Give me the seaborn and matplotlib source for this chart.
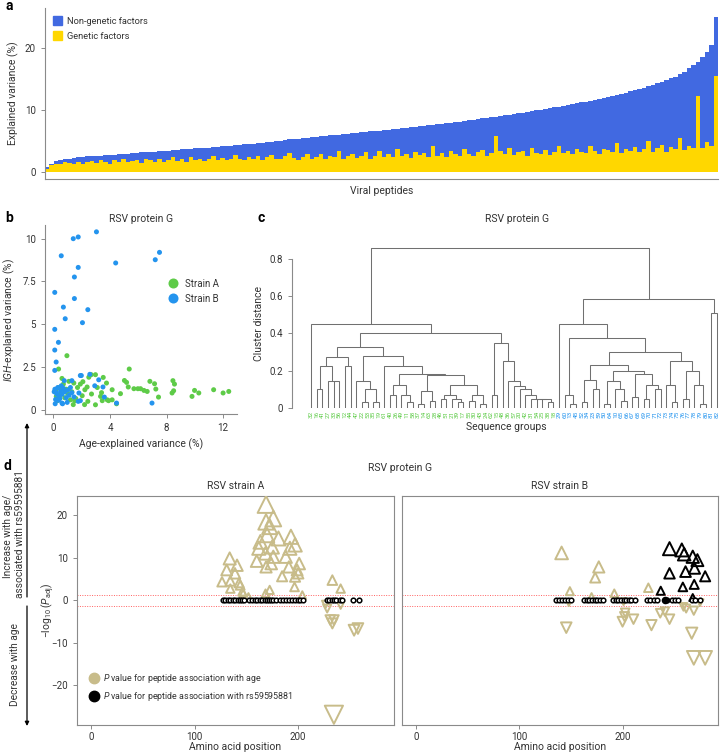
import numpy as np
import pandas as pd
import matplotlib
matplotlib.use('Agg')
import matplotlib.pyplot as plt
import seaborn as sns
from matplotlib.lines import Line2D
from matplotlib.patches import Patch

# ── colours ─────────────────────────────────────────────────────────
BLUE_A   = '#4169e1'
GOLD_A   = '#ffd700'
GREEN_B  = '#5ecb48'
BLUE_B   = '#2494ee'
TAN      = '#c8bc8a'
GRAY     = '#8a8a8a'
TXT      = '#333333'

# ── panel a: explained variance per viral peptide (sorted) ──────────
total_var = [
    0.7, 1.3, 1.7, 1.9, 2.0, 2.1, 2.2, 2.3, 2.35, 2.45,
    2.5, 2.55, 2.6, 2.65, 2.7, 2.75, 2.8, 2.85, 2.9, 3.0,
    3.05, 3.1, 3.15, 3.2, 3.25, 3.3, 3.35, 3.4, 3.5, 3.55,
    3.6, 3.65, 3.7, 3.75, 3.8, 3.85, 3.9, 3.95, 4.0, 4.1,
    4.15, 4.2, 4.3, 4.35, 4.4, 4.5, 4.55, 4.65, 4.7, 4.8,
    4.85, 4.95, 5.0, 5.1, 5.2, 5.25, 5.35, 5.4, 5.5, 5.6,
    5.65, 5.75, 5.8, 5.9, 5.95, 6.0, 6.1, 6.15, 6.2, 6.3,
    6.35, 6.45, 6.5, 6.6, 6.65, 6.7, 6.8, 6.85, 6.95, 7.0,
    7.1, 7.2, 7.25, 7.35, 7.4, 7.5, 7.6, 7.7, 7.75, 7.85,
    7.95, 8.05, 8.1, 8.2, 8.3, 8.4, 8.5, 8.6, 8.7, 8.8,
    8.9, 9.0, 9.1, 9.2, 9.3, 9.45, 9.55, 9.65, 9.8, 9.9,
    10.0, 10.15, 10.3, 10.4, 10.5, 10.65, 10.8, 10.9, 11.05, 11.2,
    11.3, 11.45, 11.6, 11.75, 11.9, 12.05, 12.2, 12.4, 12.6, 12.8,
    13.0, 13.2, 13.4, 13.6, 13.8, 14.05, 14.3, 14.55, 14.8, 15.1,
    15.4, 15.8, 16.2, 16.7, 17.2, 17.8, 18.5, 19.3, 20.5, 25.0,
]
genetic_var = [
    0.5, 1.0, 1.3, 1.2, 1.5, 1.4, 1.2, 1.6, 1.3, 1.5,
    1.7, 1.4, 1.8, 1.5, 1.3, 1.8, 1.6, 2.0, 1.5, 1.7,
    1.9, 1.4, 2.1, 1.8, 1.6, 2.0, 1.5, 1.9, 2.3, 1.7,
    2.0, 1.6, 2.4, 1.8, 2.1, 1.7, 2.0, 2.5, 1.8, 2.2,
    1.8, 2.1, 2.7, 2.0, 1.8, 2.4, 2.1, 2.6, 1.9, 2.3,
    2.7, 2.1, 2.0, 2.5, 3.0, 2.2, 1.9, 2.4, 2.8, 2.1,
    2.3, 2.9, 2.0, 2.5, 2.3, 3.3, 2.1, 2.6, 2.9, 2.2,
    2.5, 3.1, 2.1, 2.6, 3.4, 2.3, 2.8, 2.4, 3.7, 2.6,
    2.9, 2.2, 3.2, 2.7, 3.0, 2.4, 4.2, 2.6, 3.0, 2.3,
    3.3, 2.8, 2.5, 3.6, 2.9, 2.5, 3.1, 3.5, 2.6, 3.0,
    5.8, 3.4, 2.9, 3.8, 2.7, 3.1, 3.3, 2.6, 3.9, 3.0,
    2.9, 3.5, 2.7, 3.2, 4.1, 3.0, 3.4, 2.8, 3.7, 3.1,
    3.0, 4.2, 3.3, 2.8, 3.6, 3.5, 3.1, 4.6, 3.0, 3.6,
    3.3, 4.0, 3.1, 3.6, 5.0, 3.2, 3.8, 4.3, 3.2, 4.0,
    3.6, 5.5, 3.5, 4.2, 3.9, 12.2, 3.8, 4.8, 4.1, 15.5,
]

# ── panel b: age vs IGH explained variance ──────────────────────────
strainA_age = [0.95, 0.36, 5.36, 0.6, 1.09, 1.44, 2.08, 2.38, 2.67, 2.97,
               3.52, 3.75, 5.02, 5.17, 5.29, 5.69, 5.97, 6.16, 6.4, 6.82,
               7.15, 7.24, 6.63, 7.43, 8.45, 8.56, 8.5, 8.39, 9.98, 10.28,
               9.8, 11.33, 12.0, 12.4, 4.15, 4.74, 3.33, 2.69, 2.03, 1.58,
               2.22, 3.8, 4.15, 2.97, 2.43, 1.2, 0.2, 0.26, 1.5, 3.45,
               3.9, 4.46, 0.4, 0.7, 0.9, 1.3, 1.7, 0.5, 1.0, 1.9,
               2.5, 3.1, 2.2, 0.15, 0.8, 1.4, 3.4]
strainA_igh = [3.16, 2.38, 2.38, 1.83, 1.66, 1.56, 1.64, 1.33, 2.05, 2.05,
               1.89, 1.56, 1.71, 1.6, 1.33, 1.23, 1.23, 1.23, 1.13, 1.66,
               1.52, 1.21, 1.07, 0.74, 1.7, 1.5, 1.11, 0.98, 1.13, 0.98,
               0.78, 1.17, 0.98, 1.07, 1.17, 0.94, 0.78, 0.92, 0.82, 0.66,
               1.17, 0.58, 0.58, 0.29, 0.49, 0.58, 0.78, 0.53, 0.53, 0.53,
               0.53, 0.35, 1.3, 1.5, 1.2, 1.05, 1.3, 0.9, 0.95, 1.5,
               1.9, 1.3, 0.3, 1.1, 0.7, 0.3, 1.0]
strainB_age = [3.04, 1.75, 1.4, 0.55, 7.5, 7.2, 4.4, 1.75, 1.48, 0.09,
               1.48, 0.7, 2.43, 0.83, 2.05, 0.09, 0.35, 0.09, 0.19, 0.09,
               1.9, 1.97, 2.57, 3.2, 2.92, 1.3, 0.76, 3.5, 3.6, 1.8,
               1.9, 6.97, 4.46, 0.6, 0.97, 0.12, 0.64, 1.75, 0.1, 0.2,
               0.3, 0.4, 0.5, 0.6, 0.7, 0.8, 0.9, 1.0, 1.1, 1.2,
               0.15, 0.35, 0.25, 0.55, 1.3, 1.45, 0.05, 0.45]
strainB_igh = [10.4, 10.1, 10.0, 9.0, 9.2, 8.77, 8.58, 8.32, 7.76, 6.86,
               6.5, 6.0, 5.85, 5.32, 5.09, 4.7, 3.94, 3.49, 2.79, 2.3,
               2.0, 2.0, 2.07, 1.75, 1.4, 1.7, 1.7, 1.33, 0.74, 0.98,
               0.53, 0.39, 0.39, 0.39, 0.43, 0.35, 0.35, 0.49, 1.2, 1.0,
               1.3, 0.8, 1.1, 0.9, 1.25, 1.05, 0.7, 1.15, 0.85, 1.3,
               0.6, 0.55, 0.9, 1.4, 1.0, 0.75, 1.05, 0.65]

# ── panel c: dendrogram of sequence groups ──────────────────────────
# internal node = [merge height, left, right]; 'L' = leaf
L = 'L'
tree_left = [0.45, L, [0.40,
    [0.325,
        [0.275, [0.225, [0.10, L, L], [0.146, L, [0.145, L, L]]], [0.225, L, L]],
        [0.28,
            [0.146, L, [0.10, [0.03, L, L], [0.03, L, L]]],
            [0.225, L, [0.18,
                [0.125, [0.07, L, L], [0.07, L, [0.03, L, L]]],
                [0.177, [0.09, [0.02, L, L], [0.04, L, L]],
                        [0.125, [0.07, [0.05, L, L], [0.05, L, [0.03, L, L]]],
                                [0.07, [0.04, L, L], [0.02, L, L]]]]]]]],
    [0.35, [0.07, L, L], [0.25, L, [0.145, L, [0.12, L, [0.10, L, [0.07, L,
        [0.05, L, [0.05, L, [0.05, L, [0.03, L, L]]]]]]]]]]]]
tree_right = [0.585,
    [0.45, L, [0.375, [0.07, L, [0.02, L, L]],
        [0.298,
            [0.23, [0.15, [0.03, L, L], [0.10, L, L]],
                   [0.20, [0.145, [0.02, L, L], [0.10, L, [0.04, L, L]]],
                          [0.18, [0.06, L, L], [0.125, [0.05, L, L], [0.10, L, L]]]]],
            [0.25, [0.125, L, [0.03, L, L]],
                   [0.20, [0.05, L, L], [0.125, L, [0.02, L, L]]]]]]],
    [0.51, L, L]]
tree_top_height = 0.855

leaf_labels_A = ['32', '16', '41', '27', '33', '56', '12', '44', '47', '22',
                 '53', '35', '19', '61', '40', '26', '49', '11', '58', '37',
                 '14', '63', '28', '46', '51', '21', '39', '17', '55', '30',
                 '43', '24', '62', '15', '48', '36', '57', '20', '42', '31',
                 '54', '25', '38', '18']
leaf_labels_B = ['29', '60', '13', '45', '52', '34', '23', '59', '50', '64',
                 '10', '65', '66', '67', '68', '69', '70', '71', '72', '73',
                 '74', '75', '76', '77', '78', '79', '80', '81', '82']

# ── panel d: peptide associations along RSV protein G ───────────────
A_up_pos = [126.5, 133.9, 131, 134.5, 139, 141, 143, 144, 134.5, 146, 147, 152,
            169, 176, 169, 172.5, 170, 163.5, 175, 162, 168.5, 181, 176, 174,
            169, 160, 193, 197, 192, 188, 191, 201, 199, 197, 200, 184.5,
            196.5, 172.5, 168.5, 204, 233, 241]
A_up_val = [4.3, 9.8, 7.1, 4.5, 6.3, 8.2, 4.1, 3.5, 2.7, 2.0, 1.6, 0.8,
            22.5, 19.2, 18.4, 17.3, 15.3, 13.7, 12.5, 12.2, 11.0, 14.5, 10.2, 8.6,
            7.8, 9.2, 14.9, 13.0, 12.2, 10.2, 7.8, 8.6, 7.1, 5.5, 6.3, 5.6,
            3.1, 2.4, 1.6, 1.2, 4.7, 2.7]
A_dn_pos = [228, 231, 234.5, 233, 254, 257.7, 234.5, 241, 226.5]
A_dn_val = [-2.0, -4.7, -4.7, -5.5, -7.1, -6.7, -27.0, -1.2, -1.0]
A_snp_pos = [127, 129.5, 132, 134.5, 137, 139.5, 142, 144, 146, 148,
             153, 155.5, 158, 160.5, 163, 165.5, 168, 170, 172, 174, 176,
             179, 182, 185, 188, 191, 194, 197, 199.5, 202, 205,
             228, 230, 233, 235, 237, 240, 242, 253, 259]

B_up_pos = [141, 177, 173.5, 149, 192, 225, 170]
B_up_val = [11.1, 7.8, 5.3, 2.1, 1.6, 2.9, 0.8]
B_dn_pos = [145.5, 148, 202.6, 202, 200, 210.6, 228, 236.5, 241, 245.5,
            259, 261.6, 269, 267, 269, 280, 275, 201]
B_dn_val = [-6.5, -0.6, -3.0, -3.9, -5.1, -4.5, -5.9, -3.1, -2.7, -4.5,
            -1.6, -2.0, -2.5, -7.8, -13.6, -13.6, -0.6, -0.4]
B_snp_up_pos = [245.5, 257.4, 259.7, 268, 272.5, 269.7, 261, 245.5, 280, 269.4, 258.4, 237, 268]
B_snp_up_val = [12.1, 11.8, 10.8, 10.2, 9.4, 7.5, 6.7, 6.3, 5.6, 3.7, 3.1, 2.2, 0.6]
B_snp_pos = [135.5, 138, 141, 144, 147, 150,
             163, 165.5, 168, 170.5, 173, 175.5, 178, 181,
             191, 193.5, 196, 198.5, 201, 203.5, 206, 208.5, 212,
             223.5, 227, 230, 233, 243, 248, 251, 254, 267, 270, 275]
B_snp_filled_pos = [241]

P_THRESH = 1.3   # -log10(0.05)


# ── style ───────────────────────────────────────────────────────────
sns.set_theme(style='ticks')
plt.rcParams['font.family'] = ['Roboto', 'DejaVu Sans']
plt.rcParams['mathtext.fontset'] = 'custom'
plt.rcParams['mathtext.rm'] = 'Roboto'
plt.rcParams['mathtext.it'] = 'Roboto:italic'
plt.rcParams['text.color'] = TXT
plt.rcParams['axes.labelcolor'] = TXT
plt.rcParams['axes.edgecolor'] = GRAY
plt.rcParams['axes.linewidth'] = 0.8
plt.rcParams['xtick.color'] = GRAY
plt.rcParams['ytick.color'] = GRAY
plt.rcParams['xtick.labelcolor'] = TXT
plt.rcParams['ytick.labelcolor'] = TXT

FS = 7


def _ticks(ax):
    ax.tick_params(labelsize=FS, length=3, width=0.7)


fig = plt.figure(figsize=(7.2, 7.54), dpi=100)

# ── a ───────────────────────────────────────────────────────────────
ax_a = fig.add_axes([0.0625, 0.7626, 0.935, 0.2268])
df_a = pd.DataFrame({'peptide': np.arange(len(total_var)),
                     'total': total_var, 'genetic': genetic_var})
sns.barplot(data=df_a, x='peptide', y='total', color=BLUE_A, width=1.0,
            linewidth=0, saturation=1, errorbar=None, ax=ax_a)
sns.barplot(data=df_a, x='peptide', y='genetic', color=GOLD_A, width=1.0,
            linewidth=0, saturation=1, errorbar=None, ax=ax_a)
ax_a.set_xlim(-0.5, len(total_var) - 0.5)
ax_a.set_ylim(-1.2, 26.5)
ax_a.set_xticks([])
ax_a.set_yticks([0, 10, 20])
ax_a.set_xlabel('Viral peptides', fontsize=FS + 0.5, labelpad=5)
ax_a.set_ylabel('Explained variance (%)', fontsize=FS + 0.5, labelpad=4)
sns.despine(ax=ax_a)
_ticks(ax_a)
ax_a.legend(handles=[Patch(color=BLUE_A, label='Non-genetic factors'),
                     Patch(color=GOLD_A, label='Genetic factors')],
            loc='upper left', bbox_to_anchor=(0.0, 1.0), frameon=False,
            fontsize=FS - 0.3, handlelength=0.9, handleheight=1.0,
            handletextpad=0.6, labelspacing=0.6)

# ── b ───────────────────────────────────────────────────────────────
ax_b = fig.add_axes([0.0625, 0.4509, 0.267, 0.2507])
df_b = pd.DataFrame({
    'age': strainA_age + strainB_age,
    'igh': strainA_igh + strainB_igh,
    'strain': ['Strain A'] * len(strainA_age) + ['Strain B'] * len(strainB_age),
})
sns.scatterplot(data=df_b, x='age', y='igh', hue='strain',
                palette={'Strain A': GREEN_B, 'Strain B': BLUE_B},
                s=13, linewidth=0, ax=ax_b)
ax_b.set_xlim(-0.6, 13.0)
ax_b.set_ylim(-0.25, 10.8)
ax_b.set_xticks([0, 4, 8, 12])
ax_b.set_yticks([0, 2.5, 5, 7.5, 10])
ax_b.set_yticklabels(['0', '2.5', '5', '7.5', '10'])
ax_b.set_xlabel('Age-explained variance (%)', fontsize=FS + 0.5)
ax_b.set_ylabel(r'$\it{IGH}$-explained variance (%)', fontsize=FS + 0.5)
ax_b.set_title('RSV protein G', fontsize=FS + 0.5, pad=2)
sns.despine(ax=ax_b)
_ticks(ax_b)
ax_b.legend(loc='center left', bbox_to_anchor=(0.57, 0.65), frameon=False,
            fontsize=FS, markerscale=2.0, handletextpad=0.2, labelspacing=0.5)

# ── c ───────────────────────────────────────────────────────────────
ax_c = fig.add_axes([0.4056, 0.4589, 0.594, 0.2228])
leaf_pos = []


def draw_node(node, ax):
    if node == L:
        x = len(leaf_pos)
        leaf_pos.append(x)
        return x, 0.0
    h, left, right = node
    xl, hl = draw_node(left, ax)
    xr, hr = draw_node(right, ax)
    ax.plot([xl, xl, xr, xr], [hl, h, h, hr], color='#707070', lw=0.75,
            solid_joinstyle='miter')
    return (xl + xr) / 2, h


xl_top, hl_top = draw_node(tree_left, ax_c)
xr_top, hr_top = draw_node(tree_right, ax_c)
ax_c.plot([xl_top, xl_top, xr_top, xr_top],
          [hl_top, tree_top_height, tree_top_height, hr_top],
          color='#707070', lw=0.75)
labels_c = leaf_labels_A + leaf_labels_B
ax_c.set_xticks(leaf_pos)
ax_c.set_xticklabels(labels_c, rotation=90, fontsize=4.6)
for i, t in enumerate(ax_c.get_xticklabels()):
    t.set_color(GREEN_B if i < len(leaf_labels_A) else BLUE_B)
ax_c.tick_params(axis='x', length=0, pad=2)
ax_c.set_xlim(-3.4, len(labels_c) - 0.5)
ax_c.set_ylim(0, 0.9)
ax_c.set_yticks([0, 0.2, 0.4, 0.6, 0.8])
ax_c.set_yticklabels(['0', '0.2', '0.4', '0.6', '0.8'])
sns.despine(ax=ax_c, bottom=True)
ax_c.spines['left'].set_bounds(0, 0.8)
ax_c.tick_params(axis='y', labelsize=FS, length=3, width=0.7)
ax_c.set_xlabel('Sequence groups', fontsize=FS + 0.5, labelpad=3)
ax_c.set_ylabel('Cluster distance', fontsize=FS + 0.5)
ax_c.set_title('RSV protein G', fontsize=FS + 0.5, pad=13, x=0.526)

# ── d ───────────────────────────────────────────────────────────────
ax_d1 = fig.add_axes([0.1065, 0.0385, 0.4407, 0.3037])
ax_d2 = fig.add_axes([0.558, 0.0385, 0.4393, 0.3037])

SIZES = (22, 175)
SNORM = (0, 27.5)


def tri(ax, pos, val, marker, color):
    sns.scatterplot(x=pos, y=val, size=np.abs(val), sizes=SIZES, size_norm=SNORM,
                    marker=marker, color=color, facecolor='none', edgecolor=color,
                    linewidth=1.4, legend=False, ax=ax, zorder=3)


def rings(ax, pos):
    sns.scatterplot(x=pos, y=np.zeros(len(pos)), marker='o', s=11, color='black',
                    facecolor='white', edgecolor='black', linewidth=1.1,
                    legend=False, ax=ax, zorder=4)


for ax in (ax_d1, ax_d2):
    ax.axhline(P_THRESH, color='#ff6060', lw=0.7, ls=(0, (1, 1.5)), zorder=1)
    ax.axhline(-P_THRESH, color='#ff6060', lw=0.7, ls=(0, (1, 1.5)), zorder=1)

tri(ax_d1, A_up_pos, A_up_val, '^', TAN)
tri(ax_d1, A_dn_pos, A_dn_val, 'v', TAN)
rings(ax_d1, A_snp_pos)

tri(ax_d2, B_up_pos, B_up_val, '^', TAN)
tri(ax_d2, B_dn_pos, B_dn_val, 'v', TAN)
tri(ax_d2, B_snp_up_pos, B_snp_up_val, '^', 'black')
rings(ax_d2, B_snp_pos)
sns.scatterplot(x=B_snp_filled_pos, y=[0] * len(B_snp_filled_pos), marker='o',
                s=30, color='black', linewidth=0, legend=False, ax=ax_d2, zorder=5)

for ax, title in ((ax_d1, 'RSV strain A'), (ax_d2, 'RSV strain B')):
    ax.set_xlim(-13.8, 292.5)
    ax.set_ylim(-29.4, 24.5)
    ax.set_xticks([0, 100, 200])
    ax.set_yticks([-20, -10, 0, 10, 20])
    ax.set_title(title, fontsize=FS + 0.5, pad=5)
    ax.set_xlabel('Amino acid position', fontsize=FS + 0.5, labelpad=0)
    _ticks(ax)
    ax.tick_params(axis='x', pad=2)
    for sp in ax.spines.values():
        sp.set_visible(True)
        sp.set_color(GRAY)

ax_d1.set_ylabel(r'$-\log_{10}(\mathit{P}_{\rm adj})$', fontsize=FS + 0.5)
ax_d1.yaxis.set_label_coords(-0.062, 0.5)
ax_d2.set_ylabel('')
ax_d2.tick_params(axis='y', left=False, labelleft=False)

ax_d1.legend(handles=[
    Line2D([], [], marker='o', ls='', color=TAN, markersize=7.5,
           label=r'$\it{P}$ value for peptide association with age'),
    Line2D([], [], marker='o', ls='', color='black', markersize=7.5,
           label=r'$\it{P}$ value for peptide association with rs59595881')],
    loc='lower left', bbox_to_anchor=(0.0, 0.06), frameon=False,
    fontsize=FS - 0.6, handletextpad=0.1, labelspacing=0.6)

fig.text(400 / 720, 1 - 468 / 754, 'RSV protein G', ha='center', va='center',
         fontsize=FS + 0.5)

# arrows beside panel d
ax_d1.annotate('', xy=(27 / 720, 1 - 423 / 754), xytext=(27 / 720, 1 - 597 / 754),
               xycoords='figure fraction', textcoords='figure fraction',
               arrowprops=dict(arrowstyle='-|>', color='black', lw=0.9,
                               mutation_scale=6, shrinkA=0, shrinkB=0))
ax_d1.annotate('', xy=(27 / 720, 1 - 726 / 754), xytext=(27 / 720, 1 - 606 / 754),
               xycoords='figure fraction', textcoords='figure fraction',
               arrowprops=dict(arrowstyle='-|>', color='black', lw=0.9,
                               mutation_scale=6, shrinkA=0, shrinkB=0))
fig.text(8 / 720, 1 - 536 / 754, 'Increase with age/', rotation=90,
         ha='center', va='center', fontsize=FS + 0.3)
fig.text(20 / 720, 1 - 534 / 754, 'associated with rs59595881', rotation=90,
         ha='center', va='center', fontsize=FS + 0.3)
fig.text(15 / 720, 1 - 665 / 754, 'Decrease with age', rotation=90,
         ha='center', va='center', fontsize=FS + 0.3)

# panel letters
for letter, x, y in (('a', 5, 6), ('b', 5, 218), ('c', 257, 218), ('d', 4, 466)):
    fig.text(x / 720, 1 - y / 754, letter, fontsize=10, fontweight='bold',
             ha='left', va='center', color='black')

fig.savefig('out.png', dpi=100)
